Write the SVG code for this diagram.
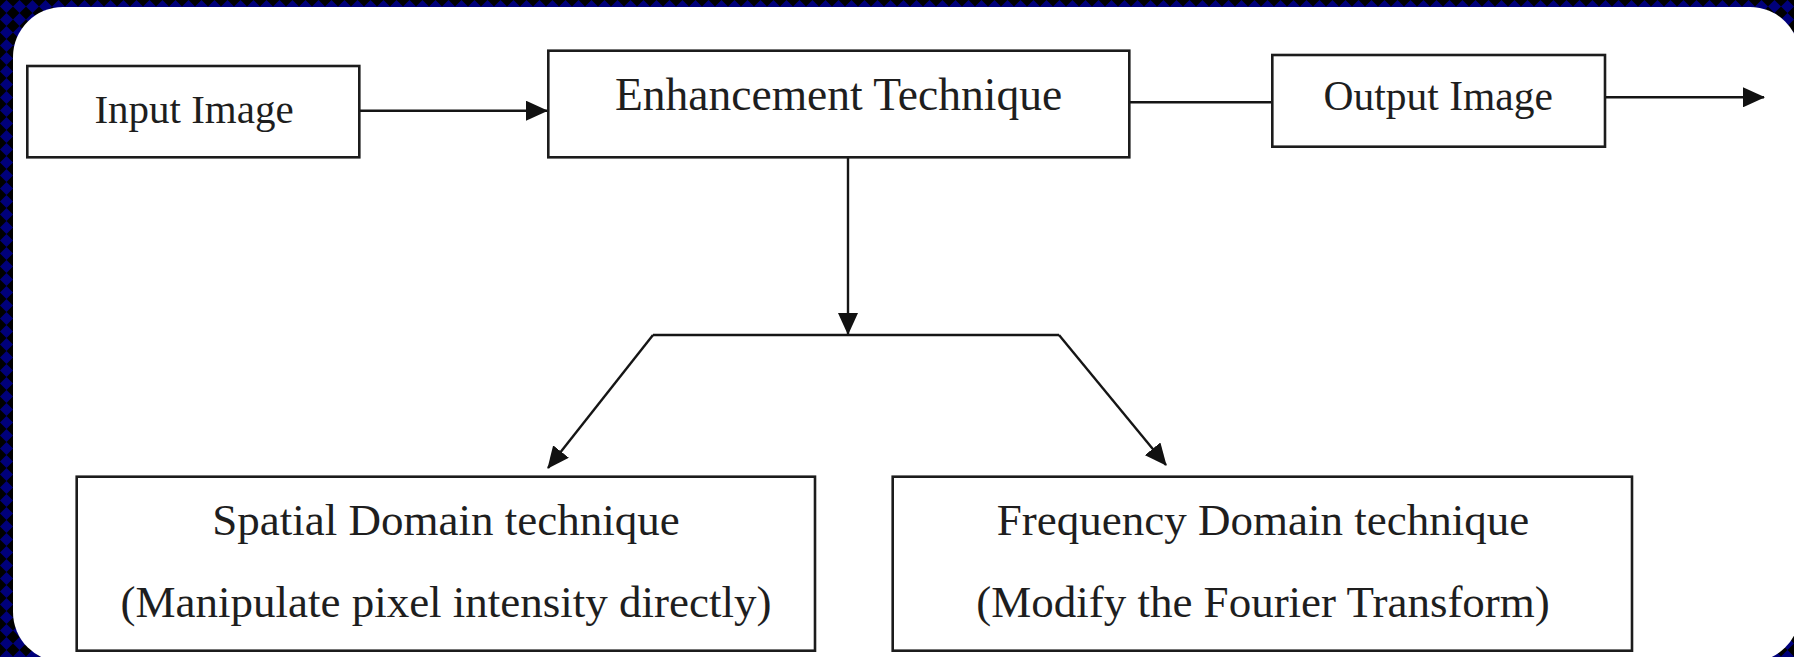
<svg xmlns="http://www.w3.org/2000/svg" width="1794" height="657" viewBox="0 0 1794 657">
  <style>
    .box { fill: #ffffff; stroke: #1c1c1c; stroke-width: 2.6; }
    .lbl { font-family: "Liberation Serif", "Times New Roman", serif; fill: #1e1e1e; text-anchor: middle; }
    .conn { fill: none; stroke: #151515; stroke-width: 2.4; }
  </style>
  <defs>
    <pattern id="checker" x="0" y="0" width="13" height="13" patternUnits="userSpaceOnUse">
      <rect width="13" height="13" fill="#000000"/>
      <polygon points="6.5,0 13,6.5 6.5,13 0,6.5" fill="#00007a"/>
    </pattern>
    <marker id="arrow" markerUnits="userSpaceOnUse" markerWidth="22" markerHeight="20" refX="21" refY="10" orient="auto">
      <path d="M0,0 L22,10 L0,20 Z" fill="#111111"/>
    </marker>
  </defs>

  <rect x="0" y="0" width="1794" height="657" fill="url(#checker)"/>
  <rect x="13" y="7" width="1787" height="655" rx="50" ry="50" fill="#ffffff"/>

  <g id="connectors">
    <line class="conn" x1="359" y1="110.7" x2="547" y2="110.7" marker-end="url(#arrow)"/>
    <line class="conn" x1="1129" y1="102.3" x2="1272" y2="102.3"/>
    <line class="conn" x1="1605" y1="97.3" x2="1764" y2="97.3" marker-end="url(#arrow)"/>
    <line class="conn" x1="848" y1="157" x2="848" y2="334" marker-end="url(#arrow)"/>
    <line class="conn" x1="653" y1="335" x2="1059" y2="335"/>
    <line class="conn" x1="653" y1="335" x2="548" y2="468" marker-end="url(#arrow)"/>
    <line class="conn" x1="1059" y1="335" x2="1166" y2="465" marker-end="url(#arrow)"/>
  </g>

  <g id="input-image">
    <rect class="box" x="27.3" y="66" width="332" height="91.3"/>
    <text class="lbl" x="194" y="122.7" font-size="41">Input Image</text>
  </g>

  <g id="enhancement-technique">
    <rect class="box" x="548.3" y="50.7" width="581" height="106.6"/>
    <text class="lbl" x="838.6" y="110" font-size="45.5">Enhancement Technique</text>
  </g>

  <g id="output-image">
    <rect class="box" x="1272.3" y="55" width="332.7" height="91.7"/>
    <text class="lbl" x="1438.3" y="110" font-size="41.5">Output Image</text>
  </g>

  <g id="spatial-domain">
    <rect class="box" x="76.7" y="476.7" width="738.3" height="174"/>
    <text class="lbl" x="446" y="535" font-size="45">Spatial Domain technique</text>
    <text class="lbl" x="446" y="617" font-size="45">(Manipulate pixel intensity directly)</text>
  </g>

  <g id="frequency-domain">
    <rect class="box" x="892.7" y="476.7" width="739.3" height="174"/>
    <text class="lbl" x="1263" y="535" font-size="45">Frequency Domain technique</text>
    <text class="lbl" x="1263" y="617" font-size="45">(Modify the Fourier Transform)</text>
  </g>
</svg>
